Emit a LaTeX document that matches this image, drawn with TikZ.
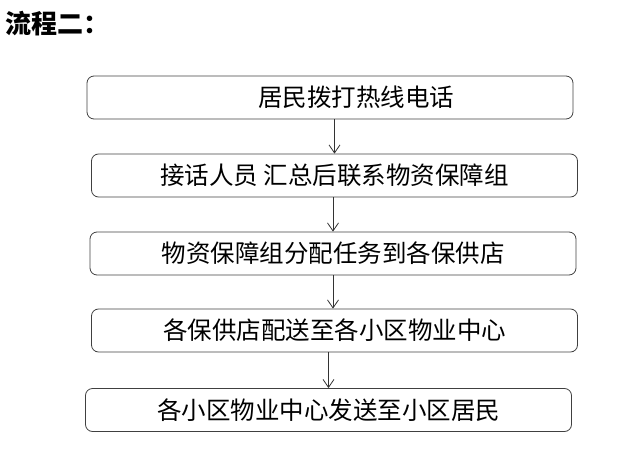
\documentclass[tikz,border=0pt]{standalone}
\usepackage{fontspec}
\newfontfamily\cjk{Noto Sans CJK SC}
\usetikzlibrary{arrows.meta}

\begin{document}
\begin{tikzpicture}[x=1pt,y=-1pt]
            \tikzstyle{every node}=[font=\cjk\fontsize{24.5}{24.5}\selectfont, inner sep=0pt];
            \tikzstyle{stepbox}=[draw=black!75, line width=0.8pt, rounded corners=7pt, minimum width=486pt, minimum height=43pt];
            \tikzstyle{arr}=[-{Straight Barb[length=8pt,width=11pt]}, draw=black!80, line width=0.8pt];
            \useasboundingbox (0,0) rectangle (643,458);
            \node[anchor=west, font=\cjk\bfseries\fontsize{26}{26}\selectfont] (title) at (5,24) {流程二：};
            % the five steps
            \node[stepbox] (call) at (330,97.5) {\hspace{52pt}居民拨打热线电话};
            \node[stepbox] (collect) at (334.5,175.5) {接话人员 汇总后联系物资保障组};
            \node[stepbox] (assign) at (333,253.5) {物资保障组分配任务到各保供店};
            \node[stepbox] (deliver) at (334.5,330.5) {各保供店配送至各小区物业中心};
            \node[stepbox] (hand) at (328.5,410) {各小区物业中心发送至小区居民};
            % arrows
            \draw[arr] (collect.north |- call.south) -- (collect.north);
            \draw[arr] (assign.north |- collect.south) -- (assign.north);
            \draw[arr] (assign.south) -- (assign.south |- deliver.north);
            \draw[arr] (hand.north |- deliver.south) -- (hand.north);
\end{tikzpicture}
\end{document}
